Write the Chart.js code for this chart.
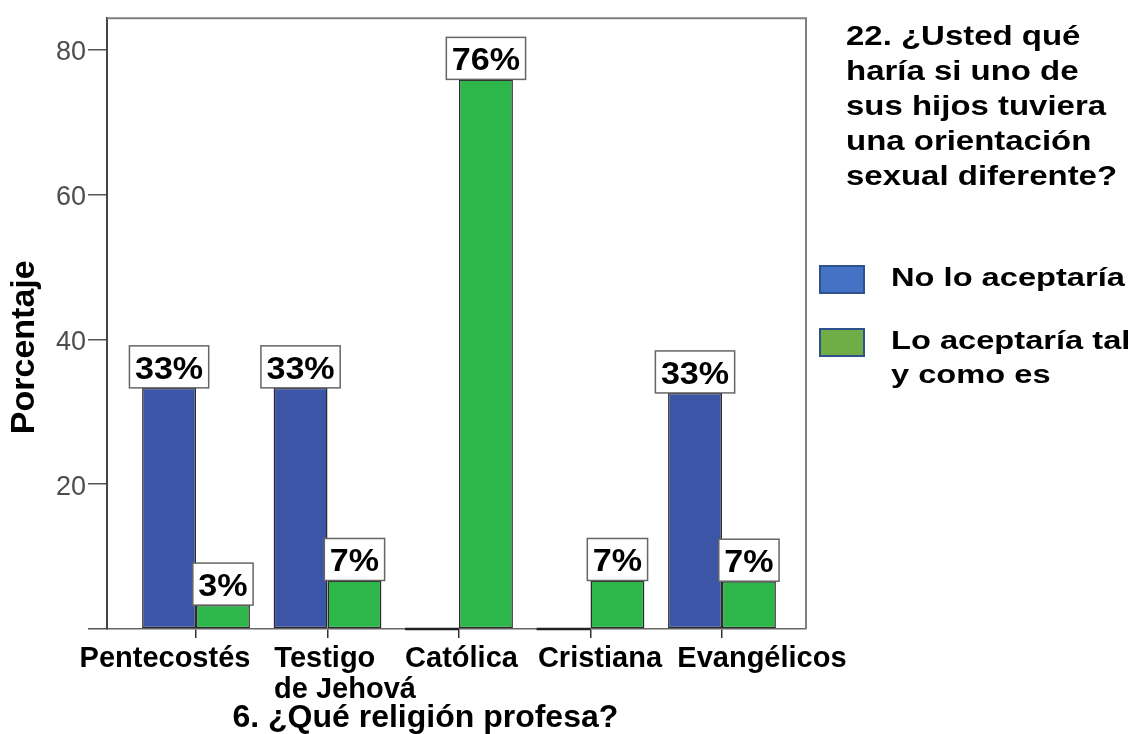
<!DOCTYPE html>
<html>
<head>
<meta charset="utf-8">
<script src="https://cdn.jsdelivr.net/npm/chart.js@4.4.1/dist/chart.umd.min.js"></script>
<style>
html,body{margin:0;padding:0;background:#fff;}
#wrap{width:1133px;height:734px;position:relative;}
canvas{display:block;}
</style>
</head>
<body>
<div id="wrap"><canvas id="c" width="1133" height="734"></canvas></div>
<script>
// ---- data ----
const categories = ['Pentecostés', ['Testigo', 'de Jehová'], 'Católica', 'Cristiana', 'Evangélicos'];
const noLoAceptaria = [33.3, 33.3, 0, 0, 32.6];
const loAceptaria = [3.3, 6.7, 75.9, 6.7, 6.6];
const yTicks = [0, 20, 40, 60, 80];
const seriesNames = ['No lo aceptaría', 'Lo aceptaría tal y como es'];
const legendItemLines = [['No lo aceptaría'], ['Lo aceptaría tal', 'y como es']];
const legendTitle = ['22. ¿Usted qué', 'haría si uno de', 'sus hijos tuviera', 'una orientación', 'sexual diferente?'];
const xTitle = '6. ¿Qué religión profesa?';
const yTitle = 'Porcentaje';

// ---- layout constants ----
const labelNudge = [-0.236, 0.133, 0.019, 0.072, 0.304];
const X_MIN = -0.677, X_MAX = 4.639;
const FONT = '"Liberation Sans", Arial, sans-serif';
const XLABEL_FONT = 'bold 29px ' + FONT;

Chart.defaults.font.family = FONT;

// left-align the lines of a multi-line tick label by padding shorter lines with spaces
const measurer = document.createElement('canvas').getContext('2d');
function leftAlignLines(label) {
  if (!Array.isArray(label)) return label;
  measurer.font = XLABEL_FONT;
  const widths = label.map(l => measurer.measureText(l).width);
  const maxW = Math.max(...widths);
  const sp = measurer.measureText(' ').width;
  return label.map((l, i) => l + ' '.repeat(Math.round((maxW - widths[i]) / sp)));
}

const annotate = {
  id: 'annotate',
  afterDatasetsDraw(chart) {
    const ctx = chart.ctx;
    chart.data.datasets.forEach((ds, di) => {
      const meta = chart.getDatasetMeta(di);
      meta.data.forEach((bar, i) => {
        const v = ds.data[i].y;
        ctx.save();
        if (!v) {
          // zero-height bar: outline collapses to a dark line on the baseline
          ctx.strokeStyle = '#222';
          ctx.lineWidth = 2.5;
          ctx.beginPath();
          ctx.moveTo(bar.x - bar.width / 2, bar.y);
          ctx.lineTo(bar.x + bar.width / 2, bar.y);
          ctx.stroke();
          ctx.restore();
          return;
        }
        const txt = Math.round(v) + '%';
        const sx = 1.1;
        ctx.font = 'bold 31px ' + FONT;
        const tw = ctx.measureText(txt).width * sx;
        const w = tw + 11, h = 42;
        const x0 = bar.x - w / 2, y1 = bar.y, y0 = y1 - h;
        ctx.fillStyle = '#fff';
        ctx.fillRect(x0, y0, w, h);
        ctx.strokeStyle = '#666';
        ctx.lineWidth = 1.5;
        ctx.strokeRect(x0, y0, w, h);
        ctx.translate(bar.x, y1 - 9);
        ctx.scale(sx, 1);
        ctx.textAlign = 'center';
        ctx.textBaseline = 'alphabetic';
        ctx.fillStyle = '#000';
        ctx.fillText(txt, 0, 0);
        ctx.restore();
      });
    });
  },
  afterDraw(chart) {
    const ctx = chart.ctx;
    const a = chart.chartArea;
    ctx.save();
    // frame top & right
    ctx.strokeStyle = '#7f7f7f';
    ctx.lineWidth = 2;
    ctx.beginPath();
    ctx.moveTo(a.left, a.top);
    ctx.lineTo(a.right, a.top);
    ctx.lineTo(a.right, a.bottom);
    ctx.stroke();

    const stretch = (txt, x, y, font, sx) => {
      ctx.save();
      ctx.font = font;
      ctx.translate(x, y);
      ctx.scale(sx, 1);
      ctx.textAlign = 'left';
      ctx.textBaseline = 'alphabetic';
      ctx.fillStyle = '#000';
      ctx.fillText(txt, 0, 0);
      ctx.restore();
    };
    // legend title
    legendTitle.forEach((line, i) => stretch(line, 846, 45 + 35 * i, 'bold 28px ' + FONT, 1.177));

    // legend items
    const swatchFill = ['#4472c4', '#70ad47'];
    const swatchTop = [266, 329];
    legendItemLines.forEach((lines, i) => {
      ctx.fillStyle = swatchFill[i];
      ctx.fillRect(820, swatchTop[i], 44, 27);
      ctx.strokeStyle = '#2f528f';
      ctx.lineWidth = 2;
      ctx.strokeRect(820, swatchTop[i], 44, 27);
      lines.forEach((ln, j) => stretch(ln, 891, swatchTop[i] + 20 + 34 * j, 'bold 26px ' + FONT, 1.255));
    });
    ctx.restore();
  }
};

new Chart(document.getElementById('c'), {
  type: 'bar',
  data: {
    datasets: [
      {
        label: seriesNames[0],
        data: noLoAceptaria.map((v, i) => ({ x: i, y: v })),
        backgroundColor: '#3d55a7',
        borderColor: '#2b2b2b',
        borderWidth: 1.5,
        borderSkipped: false
      },
      {
        label: seriesNames[1],
        data: loAceptaria.map((v, i) => ({ x: i, y: v })),
        backgroundColor: '#2db74b',
        borderColor: '#2b2b2b',
        borderWidth: 1.5,
        borderSkipped: false
      }
    ]
  },
  options: {
    responsive: false,
    animation: false,
    devicePixelRatio: 1,
    categoryPercentage: 0.82,
    barPercentage: 1,
    layout: { padding: { top: 9, right: 327, left: 0, bottom: 0 } },
    plugins: { legend: { display: false }, tooltip: { enabled: false } },
    scales: {
      x: {
        type: 'linear',
        position: 'bottom',
        min: X_MIN, max: X_MAX,
        offset: false,
        weight: 0,
        afterBuildTicks: s => { s.ticks = categories.map((c, i) => ({ value: i })); },
        ticks: { display: false },
        grid: { offset: false, drawOnChartArea: false, drawTicks: true, tickLength: 9, color: '#333', lineWidth: 1.5 },
        border: { display: true, color: '#666', width: 1.5 },
        afterFit: s => { s.height = 9; }
      },
      xl: {
        type: 'linear',
        position: 'bottom',
        min: X_MIN, max: X_MAX,
        offset: false,
        weight: 1,
        afterBuildTicks: s => { s.ticks = categories.map((c, i) => ({ value: i + labelNudge[i] })); },
        ticks: {
          autoSkip: false, maxRotation: 0, minRotation: 0, padding: -3,
          color: '#000',
          font: { family: FONT, size: 29, weight: 'bold', lineHeight: 1.07 },
          callback: (v, idx) => leftAlignLines(categories[idx])
        },
        grid: { display: false, offset: false },
        border: { display: false },
        title: {
          display: true,
          text: xTitle + '       ',
          color: '#000',
          font: { family: FONT, size: 32, weight: 'bold', lineHeight: 1 },
          padding: 0
        },
        afterFit: s => { s.height = 96; }
      },
      y: {
        min: 0, max: 84.35,
        afterBuildTicks: s => { s.ticks = yTicks.map(v => ({ value: v })); },
        ticks: {
          color: '#4d4d4d',
          padding: 2,
          labelOffset: 3,
          font: { family: FONT, size: 27 },
          callback: v => (v === 0 ? '' : String(v))
        },
        grid: { drawOnChartArea: false, drawTicks: true, tickLength: 19, color: '#555', lineWidth: 1.5 },
        border: { display: true, color: '#444', width: 2 },
        title: {
          display: true,
          text: yTitle + '     ',
          color: '#000',
          font: { family: FONT, size: 34, weight: 'bold', lineHeight: 1 },
          padding: { top: 8, bottom: 0 }
        },
        afterFit: s => { s.width = 107; }
      }
    }
  },
  plugins: [annotate]
});
</script>
</body>
</html>
